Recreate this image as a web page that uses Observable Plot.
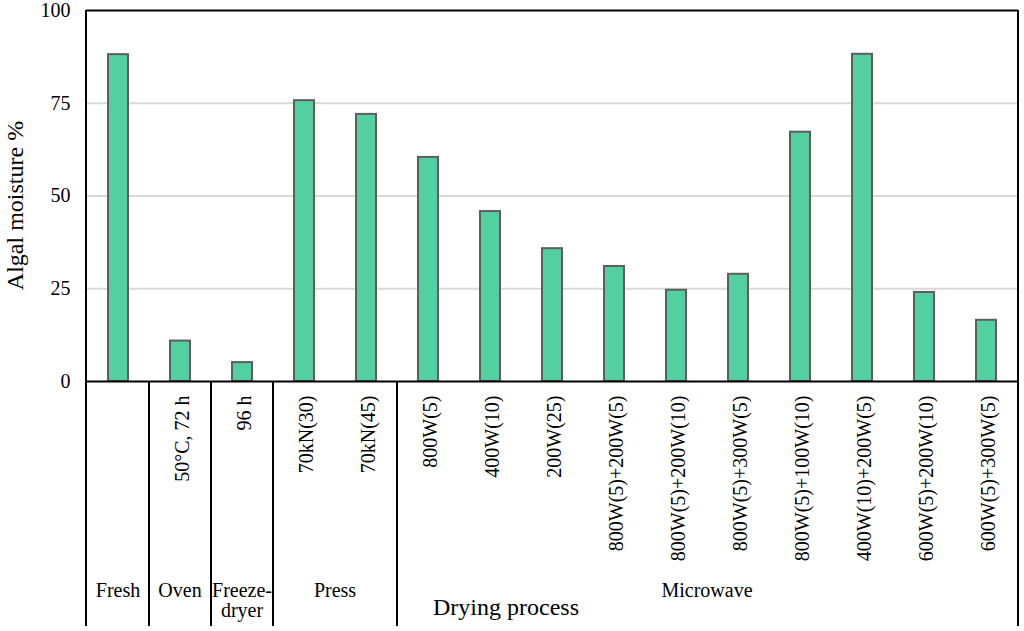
<!DOCTYPE html>
<html>
<head>
<meta charset="utf-8">
<script src="https://cdn.jsdelivr.net/npm/d3@7"></script>
<script src="https://cdn.jsdelivr.net/npm/@observablehq/plot@0.6"></script>
<style>
  html, body { margin: 0; padding: 0; background: #fff; }
</style>
</head>
<body>
<div id="chart"></div>
<script>
// ---- data ----
const categories = ["Fresh", "Oven", "Freeze", "70kN(30)", "70kN(45)", "800W(5)", "400W(10)", "200W(25)",
  "800W(5)+200W(5)", "800W(5)+200W(10)", "800W(5)+300W(5)", "800W(5)+100W(10)",
  "400W(10)+200W(5)", "600W(5)+200W(10)", "600W(5)+300W(5)"];
const tickLabels = ["", "50°C, 72 h", "96 h", "70kN(30)", "70kN(45)", "800W(5)", "400W(10)", "200W(25)",
  "800W(5)+200W(5)", "800W(5)+200W(10)", "800W(5)+300W(5)", "800W(5)+100W(10)",
  "400W(10)+200W(5)", "600W(5)+200W(10)", "600W(5)+300W(5)"];
const moisture = [88.1, 10.9, 5.1, 75.7, 72.0, 60.4, 45.8, 35.8, 31.0, 24.6, 28.9, 67.2, 88.2, 24.0, 16.5];
const groupNames = ["Fresh", "Oven", "Freeze-\ndryer", "Press", "Microwave"];
const groupFirst = [0, 1, 2, 3, 5];
const groupLast = [0, 1, 2, 4, 14];
const yTicks = [0, 25, 50, 75, 100];
const yTitle = "Algal moisture %";
const xTitle = "Drying process";

const rows = categories.map((c, i) => ({cat: c, label: tickLabels[i], value: moisture[i]}));
const FONT = "'Liberation Serif', 'Times New Roman', serif";

function decorations(index, scales, values, dimensions) {
  const x = scales.x, y = scales.y;
  const sx = scales.scales && scales.scales.x;
  const bw = sx && sx.bandwidth != null ? sx.bandwidth : x.bandwidth();
  const step = sx && sx.step != null ? sx.step : x.step();
  const left = dimensions.marginLeft;
  const right = dimensions.width - dimensions.marginRight;
  const top = y(100);
  const bottom = dimensions.height - 5;
  const g = d3.create("svg:g");
  const line = (x1, y1, x2, y2) => g.append("line")
    .attr("x1", x1).attr("y1", y1).attr("x2", x2).attr("y2", y2)
    .attr("stroke", "#000").attr("stroke-width", 2);
  line(left, top, left, bottom);
  line(right, top, right, bottom);
  groupNames.forEach((name, k) => {
    const x0 = x(categories[groupFirst[k]]) + bw / 2 - step / 2;
    const x1 = x(categories[groupLast[k]]) + bw / 2 + step / 2;
    if (k > 0) line(x0, y(0), x0, bottom);
    const t = g.append("text")
      .attr("text-anchor", "middle")
      .attr("font-family", FONT).attr("font-size", 20).attr("fill", "#000");
    name.split("\n").forEach((s, j) => {
      t.append("tspan").attr("x", (x0 + x1) / 2).attr("y", 597 + j * 20).text(s);
    });
  });
  g.append("text").attr("x", 506).attr("y", 615)
    .attr("text-anchor", "middle").attr("font-family", FONT).attr("font-size", 24)
    .attr("fill", "#000").text(xTitle);
  g.append("text").attr("transform", `translate(23,${(y(0) + y(100)) / 2 + 10}) rotate(-90)`)
    .attr("text-anchor", "middle").attr("font-family", FONT).attr("font-size", 24)
    .attr("fill", "#000").text(yTitle);
  return g.node();
}

const chart = Plot.plot({
  width: 1024,
  height: 631,
  marginLeft: 86,
  marginRight: 6,
  marginTop: 10,
  marginBottom: 250,
  style: {fontFamily: FONT, fontSize: "20px", color: "#000", background: "#fff"},
  x: {domain: categories, paddingInner: 0.68, paddingOuter: 0.34, axis: null},
  y: {domain: [0, 100], axis: null},
  marks: [
    Plot.gridY(yTicks.filter(d => d > 0 && d < 100), {stroke: "#d9d9d9", strokeOpacity: 1, strokeWidth: 2}),
    Plot.axisY(yTicks, {tickSize: 0, tickPadding: 16, fontSize: 20, fill: "#000", label: null}),
    Plot.barY(rows, {x: "cat", y: "value", fill: "#54d0a0", stroke: "#5e5e5e", strokeWidth: 2}),
    Plot.ruleY([0, 100], {stroke: "#000", strokeWidth: 2}),
    Plot.text(rows, {x: "cat", text: "label", frameAnchor: "bottom", rotate: -90,
      textAnchor: "end", lineAnchor: "middle", dy: 14, dx: 2, fontSize: 20, fill: "#000"}),
    decorations
  ]
});
document.getElementById("chart").appendChild(chart);
</script>
</body>
</html>
